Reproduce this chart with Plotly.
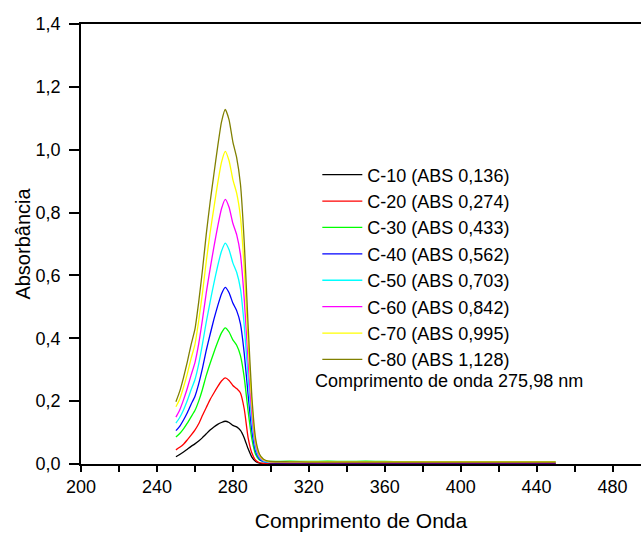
import plotly.graph_objects as go

# wavelength grid (nm)
wavelength = [250, 252, 254, 256, 258, 260, 262, 264, 266, 268, 270, 272, 274, 276,
              278, 280, 282, 284, 286, 288, 290, 292, 294, 296, 298, 300,
              310, 320, 330, 340, 350, 360, 370, 380, 400, 420, 450]

c10 = [0.023, 0.030, 0.038, 0.047, 0.056, 0.064, 0.073, 0.084, 0.096, 0.108, 0.118, 0.126, 0.132, 0.136,
       0.132, 0.123, 0.118, 0.107, 0.083, 0.049, 0.022, 0.008, 0.003, 0.002, 0.002, 0.002,
       0.002, 0.002, 0.003, 0.002, 0.002, 0.002, 0.002, 0.002, 0.002, 0.002, 0.002]
c20 = [0.045, 0.053, 0.063, 0.077, 0.092, 0.108, 0.128, 0.155, 0.180, 0.205, 0.226, 0.246, 0.264, 0.274,
       0.266, 0.250, 0.240, 0.226, 0.175, 0.085, 0.035, 0.012, 0.004, 0.002, 0.001, 0.000,
       0.000, 0.000, 0.000, 0.000, 0.000, 0.000, 0.000, 0.000, 0.000, 0.000, 0.000]
c30 = [0.086, 0.097, 0.112, 0.130, 0.150, 0.170, 0.200, 0.238, 0.282, 0.320, 0.355, 0.388, 0.417, 0.433,
       0.420, 0.395, 0.378, 0.345, 0.275, 0.170, 0.080, 0.030, 0.013, 0.009, 0.008, 0.008,
       0.009, 0.008, 0.009, 0.008, 0.009, 0.008, 0.007, 0.006, 0.006, 0.006, 0.006]
c40 = [0.106, 0.120, 0.140, 0.163, 0.190, 0.215, 0.255, 0.305, 0.362, 0.412, 0.460, 0.503, 0.541, 0.562,
       0.545, 0.512, 0.488, 0.446, 0.352, 0.222, 0.106, 0.040, 0.016, 0.008, 0.005, 0.004,
       0.004, 0.004, 0.004, 0.004, 0.004, 0.004, 0.004, 0.004, 0.004, 0.004, 0.004]
c50 = [0.130, 0.148, 0.172, 0.202, 0.236, 0.268, 0.318, 0.382, 0.452, 0.515, 0.575, 0.630, 0.677, 0.703,
       0.682, 0.640, 0.610, 0.557, 0.440, 0.277, 0.134, 0.050, 0.020, 0.010, 0.006, 0.005,
       0.005, 0.005, 0.005, 0.005, 0.005, 0.005, 0.005, 0.005, 0.005, 0.005, 0.005]
c60 = [0.149, 0.172, 0.204, 0.241, 0.283, 0.322, 0.382, 0.460, 0.545, 0.620, 0.690, 0.755, 0.812, 0.842,
       0.817, 0.766, 0.730, 0.666, 0.525, 0.330, 0.160, 0.060, 0.024, 0.012, 0.008, 0.006,
       0.006, 0.006, 0.005, 0.006, 0.005, 0.005, 0.005, 0.005, 0.005, 0.005, 0.005]
c70 = [0.182, 0.206, 0.244, 0.287, 0.336, 0.380, 0.455, 0.545, 0.645, 0.735, 0.815, 0.893, 0.960, 0.995,
       0.965, 0.905, 0.862, 0.786, 0.620, 0.390, 0.190, 0.070, 0.028, 0.014, 0.009, 0.007,
       0.007, 0.007, 0.007, 0.007, 0.007, 0.007, 0.007, 0.007, 0.007, 0.007, 0.007]
c80 = [0.198, 0.231, 0.275, 0.325, 0.380, 0.428, 0.515, 0.618, 0.732, 0.832, 0.922, 1.010, 1.088, 1.128,
       1.095, 1.025, 0.975, 0.890, 0.705, 0.445, 0.215, 0.080, 0.032, 0.016, 0.010, 0.008,
       0.007, 0.006, 0.006, 0.006, 0.006, 0.006, 0.006, 0.006, 0.006, 0.006, 0.006]

series_names = ["C-10 (ABS 0,136)", "C-20 (ABS 0,274)", "C-30 (ABS 0,433)", "C-40 (ABS 0,562)",
                "C-50 (ABS 0,703)", "C-60 (ABS 0,842)", "C-70 (ABS 0,995)", "C-80 (ABS 1,128)"]
series_values = [c10, c20, c30, c40, c50, c60, c70, c80]
series_colors = ["#000000", "#FF0000", "#00FF00", "#0000FF", "#00FFFF", "#FF00FF", "#FFFF00", "#808000"]

x_tickvals = [200, 220, 240, 260, 280, 300, 320, 340, 360, 380, 400, 420, 440, 460, 480]
x_ticktext = ["200", "", "240", "", "280", "", "320", "", "360", "", "400", "", "440", "", "480"]
y_tickvals = [0.0, 0.2, 0.4, 0.6, 0.8, 1.0, 1.2, 1.4]

note_text = "Comprimento de onda 275,98 nm"

FONT = "Liberation Sans, Arial, sans-serif"

fig = go.Figure()
for name, vals, col in zip(series_names, series_values, series_colors):
    fig.add_trace(go.Scatter(x=wavelength, y=vals, mode="lines", name=name,
                             line=dict(color=col, width=1.3, shape="spline", smoothing=0.5)))

fig.update_layout(
    width=641, height=533,
    margin=dict(l=81, r=0, t=24, b=69),
    paper_bgcolor="white", plot_bgcolor="white",
    separators=",.",
    font=dict(family=FONT, color="black", size=18),
    showlegend=True,
    legend=dict(x=0.422, y=0.699, xanchor="left", yanchor="top",
                bgcolor="rgba(0,0,0,0)", font=dict(size=18, family=FONT),
                tracegroupgap=0, itemwidth=40),
    xaxis=dict(range=[200, 495], tickvals=x_tickvals, ticktext=x_ticktext,
               ticks="outside", ticklen=6, tickwidth=1.5, tickcolor="black",
               showline=True, linecolor="black", linewidth=1.5, mirror=True,
               showgrid=False, zeroline=False,
               tickfont=dict(size=18),
               title=dict(text="Comprimento de Onda", font=dict(size=21), standoff=17)),
    yaxis=dict(range=[0, 1.4], tickvals=y_tickvals, tickformat=".1f",
               ticks="outside", ticklen=10, tickwidth=1.5, tickcolor="black",
               showline=True, linecolor="black", linewidth=1.5,
               showgrid=False, zeroline=False,
               tickfont=dict(size=18), ticklabelstandoff=5,
               title=dict(text="Absorbância", font=dict(size=20), standoff=0)),
    annotations=[dict(text=note_text, xref="paper", yref="paper",
                      x=(313 - 81) / 560, y=(464 - 381) / 440,
                      xanchor="left", yanchor="middle", showarrow=False,
                      font=dict(size=18, family=FONT))],
)

fig.write_html("out.html")
